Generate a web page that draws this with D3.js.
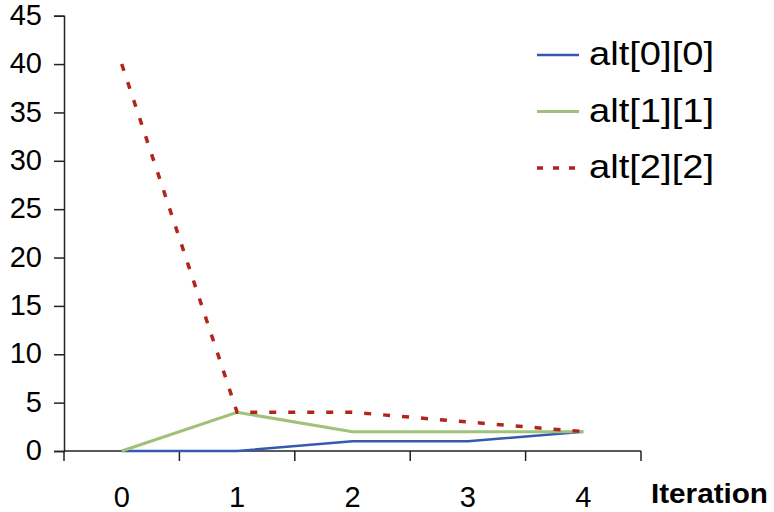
<!DOCTYPE html>
<html>
<head>
<meta charset="utf-8">
<script src="https://cdn.jsdelivr.net/npm/d3@7"></script>
<style>
  body { margin: 0; background: #fff; }
  svg text { font-family: Arial, "Liberation Sans", sans-serif; fill: #000; }
</style>
</head>
<body>
<div id="chart"></div>
<script>
var size = { width: 774, height: 512 };

// data
var iterations = [0, 1, 2, 3, 4];
var alt00 = [0, 0, 1, 1, 2];
var alt11 = [0, 4, 2, 2, 2];
var alt22 = [40, 4, 4, 3, 2];
var seriesNames = ["alt[0][0]", "alt[1][1]", "alt[2][2]"];
var yTicks = [0, 5, 10, 15, 20, 25, 30, 35, 40, 45];

var colors = ["#3659b0", "#9fc27a", "#b3241c"];
var widths = [2.5, 3, 3.5];
var dashes = [null, null, "7,12"];
var legendDashes = [null, null, "6,10"];

var plot = { left: 64, right: 641, top: 15.7, bottom: 451 };

var svg = d3.select("#chart").append("svg")
    .attr("width", size.width)
    .attr("height", size.height);

// band scale for the categories, point in the middle of each band
var x = d3.scaleBand()
    .domain(iterations)
    .range([plot.left, plot.right]);

var y = d3.scaleLinear()
    .domain([0, 45])
    .range([plot.bottom, plot.top]);

// y axis
var yAxis = svg.append("g")
    .attr("transform", "translate(" + plot.left + ",0)")
    .call(d3.axisLeft(y).tickValues(yTicks).tickSize(10).tickPadding(12));
yAxis.select(".domain").attr("stroke", "#222").attr("stroke-width", 1.5);
yAxis.selectAll(".tick line").attr("stroke", "#222").attr("stroke-width", 1.5);
yAxis.selectAll(".tick text")
    .attr("font-size", 29)
    .attr("dy", "0.3em")
    .attr("font-family", "Arial, 'Liberation Sans', sans-serif");

// x axis: ticks at band edges
var xAxisG = svg.append("g")
    .attr("transform", "translate(0," + plot.bottom + ")");
xAxisG.append("line")
    .attr("x1", plot.left).attr("x2", plot.right)
    .attr("stroke", "#222").attr("stroke-width", 1.5);
var edges = iterations.map(d => x(d)).concat([x(iterations[iterations.length - 1]) + x.bandwidth()]);
xAxisG.selectAll(".edge")
    .data(edges)
    .enter().append("line")
    .attr("class", "edge")
    .attr("x1", d => d).attr("x2", d => d)
    .attr("y1", 0).attr("y2", 10)
    .attr("stroke", "#222").attr("stroke-width", 1.5);
xAxisG.selectAll(".lbl")
    .data(iterations)
    .enter().append("text")
    .attr("class", "lbl")
    .attr("x", d => x(d) + x.bandwidth() / 2)
    .attr("y", 56)
    .attr("text-anchor", "middle")
    .attr("font-size", 29)
    .text(d => d);

// axis title
svg.append("text")
    .attr("x", 651)
    .attr("y", 503)
    .attr("font-size", 28)
    .attr("font-weight", "bold")
    .attr("textLength", 117)
    .attr("lengthAdjust", "spacingAndGlyphs")
    .text("Iteration");

// lines
var line = d3.line()
    .x((d, i) => x(iterations[i]) + x.bandwidth() / 2)
    .y(d => y(d));

var allSeries = [alt00, alt11, alt22];
svg.append("g").selectAll("path")
    .data(allSeries)
    .enter().append("path")
    .attr("d", line)
    .attr("fill", "none")
    .attr("stroke", (d, i) => colors[i])
    .attr("stroke-width", (d, i) => widths[i])
    .attr("stroke-dasharray", (d, i) => dashes[i]);

// legend
var legend = svg.append("g").selectAll("g")
    .data(seriesNames)
    .enter().append("g")
    .attr("transform", (d, i) => "translate(537," + (55 + i * 56.5) + ")");
legend.append("line")
    .attr("x1", 0).attr("x2", 42)
    .attr("stroke", (d, i) => colors[i])
    .attr("stroke-width", (d, i) => widths[i])
    .attr("stroke-dasharray", (d, i) => legendDashes[i]);
legend.append("text")
    .attr("x", 52)
    .attr("y", 10)
    .attr("font-size", 33)
    .attr("textLength", 125)
    .attr("lengthAdjust", "spacingAndGlyphs")
    .text(d => d);
</script>
</body>
</html>
